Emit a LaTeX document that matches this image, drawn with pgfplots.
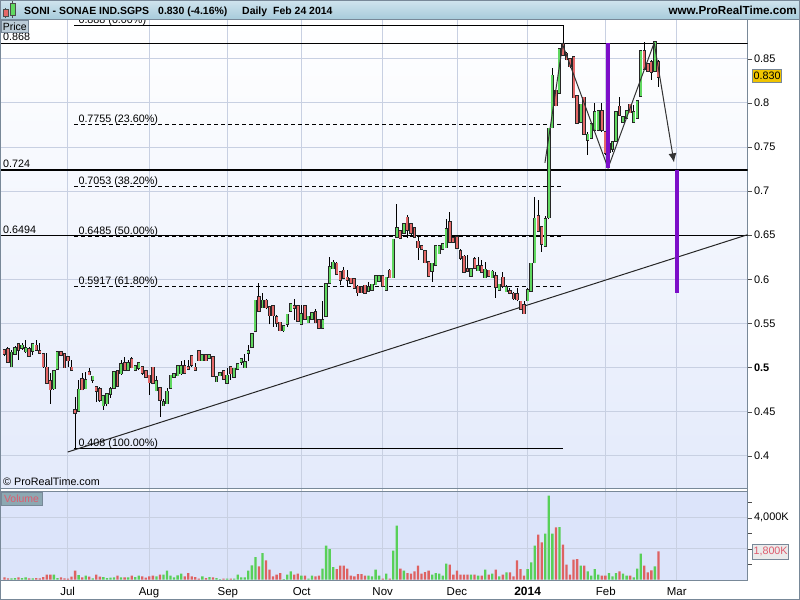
\documentclass[border=0pt]{standalone}
\usepackage{pgfplots}
\pgfplotsset{compat=1.18}
\usepackage{pgfplotstable}
\usepackage{fontspec}
\setmainfont{Liberation Sans}
\usetikzlibrary{arrows.meta}

\definecolor{cgreen}{RGB}{96,216,96}
\definecolor{cred}{RGB}{228,104,104}
\definecolor{vgreen}{RGB}{88,208,88}
\definecolor{vred}{RGB}{222,98,98}
\definecolor{gridc}{RGB}{200,208,226}
\definecolor{framec}{RGB}{120,136,152}
\definecolor{purp}{RGB}{124,14,200}
\definecolor{volbg}{RGB}{220,228,250}
\definecolor{pricebot}{RGB}{222,230,250}
\definecolor{hdrtop}{RGB}{208,228,238}
\definecolor{hdrbot}{RGB}{166,202,218}
\definecolor{gold}{RGB}{240,196,0}
\definecolor{pricebox}{RGB}{188,204,216}
\definecolor{volbox}{RGB}{140,168,178}
\definecolor{voltxt}{RGB}{222,92,110}

\newcommand{\fs}[1]{\fontsize{#1}{#1}\selectfont}

% volumes (in thousands) are drawn in the lower panel: y = 0.2595 + v*0.000017568
\pgfplotstableread{
i o h l c v
0 0.519 0.521 0.513 0.516 150
1 0.520 0.523 0.506 0.507 86
2 0.502 0.520 0.501 0.516 86
3 0.516 0.524 0.515 0.521 108
4 0.526 0.528 0.509 0.521 150
5 0.523 0.528 0.520 0.524 108
6 0.519 0.531 0.517 0.521 150
7 0.520 0.523 0.513 0.514 86
8 0.520 0.528 0.514 0.526 86
9 0.524 0.531 0.519 0.521 108
10 0.518 0.528 0.516 0.517 86
11 0.514 0.517 0.500 0.502 172
12 0.499 0.517 0.483 0.483 323
13 0.484 0.494 0.459 0.476 323
14 0.477 0.495 0.475 0.495 323
15 0.499 0.518 0.498 0.517 108
16 0.517 0.519 0.513 0.515 150
17 0.514 0.516 0.500 0.501 86
18 0.511 0.512 0.501 0.509 65
19 0.499 0.509 0.498 0.498 194
20 0.451 0.467 0.408 0.449 580
21 0.452 0.486 0.452 0.474 301
22 0.486 0.494 0.474 0.476 150
23 0.477 0.495 0.476 0.485 258
24 0.494 0.499 0.491 0.493 194
25 0.487 0.490 0.483 0.489 86
26 0.477 0.478 0.461 0.474 323
27 0.475 0.478 0.461 0.464 194
28 0.458 0.467 0.452 0.467 172
29 0.460 0.471 0.456 0.469 108
30 0.471 0.478 0.466 0.475 129
31 0.478 0.496 0.476 0.494 150
32 0.495 0.497 0.478 0.480 258
33 0.494 0.509 0.492 0.503 150
34 0.504 0.512 0.497 0.498 150
35 0.498 0.508 0.496 0.504 150
36 0.509 0.512 0.499 0.501 258
37 0.498 0.503 0.496 0.501 172
38 0.500 0.505 0.497 0.504 258
39 0.500 0.501 0.492 0.495 215
40 0.495 0.497 0.489 0.490 129
41 0.490 0.491 0.469 0.484 215
42 0.499 0.500 0.481 0.483 258
43 0.475 0.490 0.473 0.484 215
44 0.476 0.477 0.444 0.464 323
45 0.458 0.464 0.458 0.460 323
46 0.460 0.477 0.459 0.472 580
47 0.478 0.491 0.477 0.490 258
48 0.490 0.494 0.489 0.492 150
49 0.492 0.502 0.490 0.501 280
50 0.494 0.507 0.492 0.501 387
51 0.501 0.508 0.494 0.495 215
52 0.500 0.509 0.497 0.499 430
53 0.512 0.513 0.501 0.504 215
54 0.499 0.505 0.497 0.498 172
55 0.518 0.519 0.508 0.509 65
56 0.509 0.514 0.508 0.513 215
57 0.513 0.514 0.508 0.509 108
58 0.512 0.514 0.511 0.513 172
59 0.511 0.513 0.490 0.491 150
60 0.485 0.489 0.484 0.488 108
61 0.492 0.495 0.490 0.493 43
62 0.495 0.496 0.487 0.488 65
63 0.483 0.500 0.483 0.490 65
64 0.500 0.501 0.486 0.494 65
65 0.490 0.499 0.489 0.498 65
66 0.499 0.504 0.498 0.503 323
67 0.507 0.511 0.503 0.509 150
68 0.501 0.515 0.500 0.505 150
69 0.517 0.526 0.507 0.518 580
70 0.524 0.538 0.522 0.537 925
71 0.542 0.575 0.540 0.575 1462
72 0.579 0.596 0.564 0.565 860
73 0.569 0.585 0.568 0.575 1720
74 0.575 0.578 0.566 0.569 1247
75 0.568 0.569 0.549 0.560 645
76 0.569 0.570 0.546 0.560 215
77 0.556 0.560 0.546 0.551 323
78 0.550 0.551 0.541 0.543 430
79 0.543 0.548 0.540 0.546 43
80 0.550 0.560 0.546 0.559 323
81 0.565 0.573 0.563 0.571 538
82 0.569 0.578 0.554 0.568 323
83 0.569 0.570 0.552 0.554 387
84 0.550 0.571 0.549 0.560 258
85 0.569 0.571 0.554 0.556 258
86 0.552 0.558 0.551 0.557 65
87 0.556 0.563 0.554 0.561 258
88 0.562 0.566 0.551 0.552 215
89 0.553 0.554 0.545 0.546 258
90 0.546 0.575 0.545 0.553 710
91 0.559 0.595 0.558 0.594 2193
92 0.597 0.625 0.596 0.613 1978
93 0.613 0.622 0.612 0.618 817
94 0.617 0.620 0.605 0.607 688
95 0.607 0.609 0.594 0.600 903
96 0.609 0.614 0.600 0.602 903
97 0.601 0.610 0.592 0.600 710
98 0.600 0.601 0.596 0.597 258
99 0.599 0.600 0.590 0.591 215
100 0.591 0.594 0.581 0.586 366
101 0.590 0.591 0.585 0.586 366
102 0.592 0.593 0.584 0.585 258
103 0.588 0.597 0.587 0.590 258
104 0.589 0.594 0.588 0.593 215
105 0.595 0.604 0.594 0.603 645
106 0.599 0.605 0.598 0.603 258
107 0.603 0.604 0.592 0.593 65
108 0.589 0.602 0.588 0.601 387
109 0.609 0.612 0.602 0.603 65
110 0.603 0.645 0.602 0.644 1870
111 0.649 0.685 0.648 0.657 3483
112 0.654 0.656 0.647 0.648 710
113 0.653 0.664 0.652 0.662 580
114 0.669 0.673 0.647 0.657 430
115 0.662 0.664 0.648 0.653 387
116 0.657 0.659 0.648 0.649 538
117 0.642 0.649 0.622 0.637 903
118 0.637 0.639 0.633 0.635 387
119 0.631 0.633 0.618 0.620 495
120 0.619 0.620 0.603 0.605 580
121 0.610 0.617 0.597 0.617 323
122 0.617 0.638 0.616 0.637 430
123 0.630 0.639 0.629 0.637 387
124 0.635 0.641 0.633 0.639 258
125 0.637 0.668 0.636 0.656 1032
126 0.664 0.676 0.642 0.643 968
127 0.646 0.648 0.641 0.643 323
128 0.647 0.649 0.634 0.636 580
129 0.631 0.634 0.622 0.625 323
130 0.625 0.627 0.607 0.609 323
131 0.611 0.628 0.609 0.610 323
132 0.605 0.612 0.603 0.611 323
133 0.622 0.625 0.612 0.614 323
134 0.611 0.625 0.610 0.614 258
135 0.614 0.622 0.607 0.609 258
136 0.603 0.620 0.603 0.610 645
137 0.609 0.611 0.603 0.605 323
138 0.603 0.610 0.602 0.608 387
139 0.603 0.608 0.579 0.592 645
140 0.589 0.594 0.588 0.593 215
141 0.601 0.608 0.590 0.593 323
142 0.587 0.593 0.586 0.590 473
143 0.586 0.590 0.583 0.585 473
144 0.583 0.586 0.577 0.579 215
145 0.582 0.590 0.575 0.578 1247
146 0.574 0.575 0.566 0.567 688
147 0.570 0.575 0.561 0.562 258
148 0.577 0.590 0.575 0.587 688
149 0.588 0.618 0.587 0.617 1118
150 0.620 0.693 0.618 0.668 2193
151 0.671 0.690 0.654 0.656 2903
152 0.658 0.659 0.631 0.641 2408
153 0.639 0.672 0.637 0.667 2967
154 0.671 0.772 0.668 0.770 5418
155 0.773 0.840 0.771 0.830 2967
156 0.813 0.815 0.796 0.798 3376
157 0.812 0.862 0.810 0.860 3397
158 0.866 0.888 0.853 0.855 2258
159 0.855 0.858 0.848 0.850 968
160 0.849 0.851 0.840 0.842 323
161 0.851 0.853 0.805 0.807 1290
162 0.807 0.809 0.776 0.778 1333
163 0.779 0.799 0.777 0.797 903
164 0.805 0.807 0.764 0.766 903
165 0.759 0.767 0.741 0.763 538
166 0.761 0.777 0.759 0.775 258
167 0.770 0.800 0.768 0.789 688
168 0.770 0.792 0.768 0.790 323
169 0.790 0.800 0.767 0.770 258
170 0.766 0.767 0.741 0.744 258
171 0.745 0.755 0.730 0.752 430
172 0.749 0.756 0.744 0.755 215
173 0.758 0.791 0.756 0.789 430
174 0.795 0.807 0.786 0.787 538
175 0.779 0.785 0.777 0.783 387
176 0.784 0.791 0.783 0.790 258
177 0.797 0.799 0.789 0.790 258
178 0.779 0.798 0.778 0.789 150
179 0.784 0.803 0.782 0.801 710
180 0.809 0.860 0.807 0.858 1677
181 0.858 0.869 0.837 0.839 903
182 0.843 0.845 0.835 0.837 473
183 0.845 0.849 0.826 0.836 602
184 0.837 0.869 0.835 0.868 860
185 0.845 0.849 0.818 0.830 1828
}\candles

\pgfplotsset{
  wick/.style={draw=none, mark=none, forget plot,
    error bars/.cd, y dir=plus, y explicit, error mark=none,
    error bar style={draw=black, line width=0.9bp}},
  body/.style 2 args={draw=none, mark=none, forget plot,
    error bars/.cd, y dir=plus, y explicit, error mark=none,
    error bar style={draw=#1, line cap=rect, line width=#2}},
}
\tikzset{monthlbl/.style={anchor=base, font=\fs{11.5}, yshift=-16bp}}

\begin{document}
\begin{tikzpicture}[x=1bp,y=1bp]
\path[use as bounding box] (0,0) rectangle (800,600);
\fill[white] (0,0) rectangle (800,600);

\begin{axis}[
  at={(0,23)}, anchor=south west,
  scale only axis, width=747.5bp, height=560bp,
  xmin=-1.245, xmax=210.2, ymin=0.2595, ymax=0.8942,
  clip mode=individual,
  axis background/.style={path picture={
    \shade[top color=white, bottom color=pricebot]
      (path picture bounding box.north west) rectangle ([yshift=91.5bp]path picture bounding box.south east);
    \fill[white]
      ([yshift=88.3bp]path picture bounding box.south west) rectangle ([yshift=91.5bp]path picture bounding box.south east);
    \fill[volbg]
      (path picture bounding box.south west) rectangle ([yshift=88.3bp]path picture bounding box.south east);
  }},
  axis line style={draw=framec},
  xtick={17.9,40.9,63.2,84.1,107.0,128.0,148.0,170.1,190.2},
  xticklabels={},
  xtick style={draw=none},
  xmajorgrids, ymajorgrids,
  major grid style={draw=gridc, line width=0.8bp},
  ytick={0.29464,0.32977,0.4,0.45,0.5,0.55,0.6,0.65,0.7,0.75,0.8,0.85},
  yticklabels={{},{4,000K},0.4,0.45,\textbf{0.5},0.55,0.6,0.65,0.7,0.75,0.8,0.85},
  minor ytick={0.27707,0.31221,0.34734},
  ytick pos=right, yticklabel pos=right, ytick align=outside,
  major tick length=4bp, minor tick length=4bp,
  ytick style={draw=black!70},
  minor tick style={draw=black!70},
  yticklabel style={font=\fs{11}, anchor=west, xshift=-1bp},
]
% panel separators
\addplot[framec, line width=1bp, forget plot] coordinates {(-1.245,0.3632) (210.2,0.3632)};
\addplot[framec, line width=1bp, forget plot] coordinates {(-1.245,0.3596) (210.2,0.3596)};
% fibonacci levels
\addplot[black, line width=1bp] coordinates {(19.7,0.888) (158,0.888)};
\addplot[black, line width=0.9bp, dash pattern=on 4bp off 3bp] coordinates {(19.7,0.7755) (158,0.7755)};
\addplot[black, line width=0.9bp, dash pattern=on 4bp off 3bp] coordinates {(19.7,0.7053) (158,0.7053)};
\addplot[black, line width=0.9bp, dash pattern=on 4bp off 3bp] coordinates {(19.7,0.6485) (158,0.6485)};
\addplot[black, line width=0.9bp, dash pattern=on 4bp off 3bp] coordinates {(19.7,0.5917) (158,0.5917)};
\addplot[black, line width=1bp] coordinates {(19.7,0.408) (158,0.408)};
% horizontal levels
\addplot[black, line width=1bp] coordinates {(-1.245,0.8675) (210.2,0.8675)};
\addplot[black, line width=2.6bp] coordinates {(-1.245,0.724) (210.2,0.724)};
\addplot[black, line width=1bp] coordinates {(-1.245,0.6494) (210.2,0.6494)};
% trend line
\addplot[black!85, line width=1bp] coordinates {(17.9,0.4042) (210.2,0.6505)};

% candles
\addplot[wick] table[x=i, y=l, y error expr=\thisrow{h}-\thisrow{l}] {\candles};
\addplot[restrict expr to domain={\thisrow{c}-\thisrow{o}}{0:1}, body={black!85}{3.4bp}]
  table[x=i, y=o, y error expr=\thisrow{c}-\thisrow{o}] {\candles};
\addplot[restrict expr to domain={\thisrow{c}-\thisrow{o}}{0:1}, body={cgreen}{1.9bp}]
  table[x=i, y=o, y error expr=\thisrow{c}-\thisrow{o}] {\candles};
\addplot[restrict expr to domain={\thisrow{o}-\thisrow{c}}{0.0000001:1}, body={black!85}{3.4bp}]
  table[x=i, y=c, y error expr=\thisrow{o}-\thisrow{c}] {\candles};
\addplot[restrict expr to domain={\thisrow{o}-\thisrow{c}}{0.0000001:1}, body={cred}{1.9bp}]
  table[x=i, y=c, y error expr=\thisrow{o}-\thisrow{c}] {\candles};

% volume bars (lower panel)
\addplot[ybar, bar width=2.3bp, bar shift=0pt, draw=none, fill=vgreen, forget plot,
  restrict expr to domain={\thisrow{c}-\thisrow{o}}{0:1}]
  table[x=i, y expr=0.2595+\thisrow{v}*0.000017568] {\candles};
\addplot[ybar, bar width=2.3bp, bar shift=0pt, draw=none, fill=vred, forget plot,
  restrict expr to domain={\thisrow{o}-\thisrow{c}}{0.0000001:1}]
  table[x=i, y expr=0.2595+\thisrow{v}*0.000017568] {\candles};

% double top pattern
\addplot[black!80, line width=1bp] coordinates {(152.9,0.732) (157.9,0.866) (170.75,0.726) (183.8,0.868)};
\addplot[black!80, line width=1bp, -{Latex[length=9bp,width=8bp]}] coordinates {(183.8,0.868) (189.4,0.7325)};
\addplot[purp, line width=4bp] coordinates {(170.75,0.8678) (170.75,0.7264)};
\addplot[purp, line width=4bp] coordinates {(190.27,0.7242) (190.27,0.5848)};

% labels
\node[anchor=base west, font=\fs{10.8}, yshift=2bp] at (axis cs:19.97,0.888) {0.888 (0.00\%)};
\node[anchor=base west, font=\fs{10.8}, yshift=2bp] at (axis cs:19.97,0.7755) {0.7755 (23.60\%)};
\node[anchor=base west, font=\fs{10.8}, yshift=2bp] at (axis cs:19.97,0.7053) {0.7053 (38.20\%)};
\node[anchor=base west, font=\fs{10.8}, yshift=2bp] at (axis cs:19.97,0.6485) {0.6485 (50.00\%)};
\node[anchor=base west, font=\fs{10.8}, yshift=2bp] at (axis cs:19.97,0.5917) {0.5917 (61.80\%)};
\node[anchor=base west, font=\fs{10.8}, yshift=2bp] at (axis cs:19.97,0.408) {0.408 (100.00\%)};
\node[anchor=base west, font=\fs{10.8}, yshift=2.5bp, inner sep=0pt] at (axis cs:-0.4,0.8675) {0.868};
\node[anchor=base west, font=\fs{10.8}, yshift=2.5bp, inner sep=0pt] at (axis cs:-0.4,0.724) {0.724};
\node[anchor=base west, font=\fs{10.8}, yshift=2.5bp, inner sep=0pt] at (axis cs:-0.4,0.6494) {0.6494};
% month labels
\node[monthlbl] at (axis cs:17.9,0.2595) {Jul};
\node[monthlbl] at (axis cs:40.9,0.2595) {Aug};
\node[monthlbl] at (axis cs:63.2,0.2595) {Sep};
\node[monthlbl] at (axis cs:84.1,0.2595) {Oct};
\node[monthlbl] at (axis cs:107.0,0.2595) {Nov};
\node[monthlbl] at (axis cs:128.0,0.2595) {Dec};
\node[monthlbl, font=\fs{12}\bfseries] at (axis cs:148.0,0.2595) {2014};
\node[monthlbl] at (axis cs:170.1,0.2595) {Feb};
\node[monthlbl] at (axis cs:190.2,0.2595) {Mar};
\end{axis}

% ---------------- decorations ----------------
% title bar
\shade[top color=hdrtop, bottom color=hdrbot] (0,580) rectangle (800,600);
\draw[framec, line width=1bp] (0,580) -- (800,580);
% candle icon
\draw[black!70, line width=0.8bp] (5.8,581.5) -- (5.8,592);
\filldraw[fill=cred, draw=black!70, line width=0.7bp] (3.5,583.5) rectangle (8.2,590.5);
\draw[black!70, line width=0.8bp] (12.6,582) -- (12.6,599);
\filldraw[fill=cgreen, draw=black!70, line width=0.7bp] (10.3,585) rectangle (15,597);
\node[anchor=base west, inner sep=0pt, font=\fs{10.5}\bfseries] at (24,585) {SONI - SONAE IND.SGPS};
\node[anchor=base west, inner sep=0pt, font=\fs{10.5}\bfseries] at (158,585) {0.830 (-4.16\%)};
\node[anchor=base west, inner sep=0pt, font=\fs{10.5}\bfseries] at (242,585) {Daily};
\node[anchor=base west, inner sep=0pt, font=\fs{10.5}\bfseries] at (273,585) {Feb 24 2014};
\node[anchor=base east, inner sep=0pt, font=\fs{11.7}\bfseries] at (797,585) {www.ProRealTime.com};
% panel captions
\filldraw[fill=pricebox, draw=framec, line width=0.8bp] (1,567.5) rectangle (28.5,579.5);
\node[font=\fs{10.5}, inner sep=0pt] at (14.75,573.3) {Price};
\filldraw[fill=volbox, draw=framec, line width=0.8bp] (1,94.5) rectangle (42,108);
\node[font=\fs{10.5}, text=voltxt, inner sep=0pt] at (21.5,101) {Volume};
\node[anchor=base west, inner sep=0pt, font=\fs{10.8}] at (3,114.5) {\textcopyright\ ProRealTime.com};
% value boxes
\filldraw[fill=gold, draw=framec, line width=0.8bp] (752.7,517.3) rectangle (781.5,530.7);
\node[font=\fs{10.8}, inner sep=0pt] at (767.1,524) {0.830};
\filldraw[fill=black!8, draw=framec, line width=0.8bp] (752.7,40.7) rectangle (788.5,56);
\node[font=\fs{10.8}, text=voltxt, inner sep=0pt] at (770.6,48.3) {1,800K};
% outer frame
\draw[framec, line width=1bp] (0.5,0.5) rectangle (799.5,599.5);
\end{tikzpicture}
\end{document}
